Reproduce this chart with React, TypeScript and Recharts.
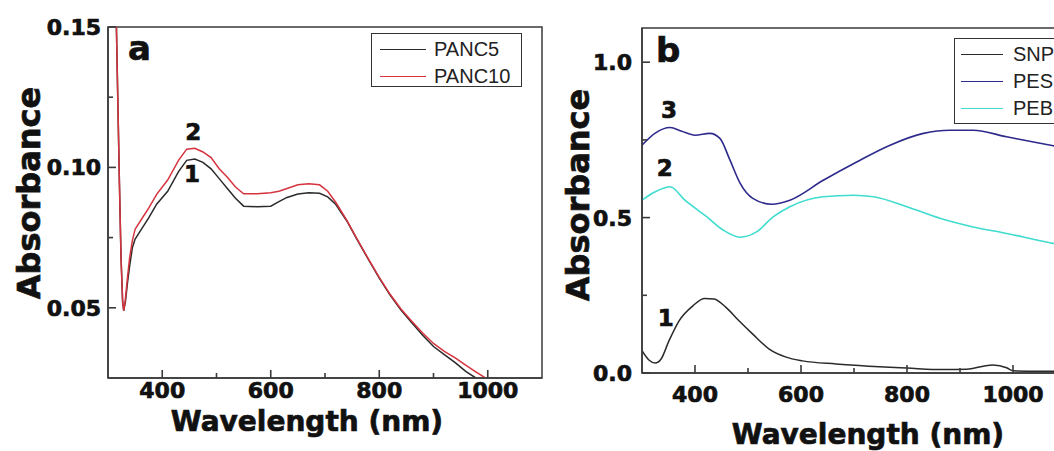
import React from 'react';
import { LineChart, Line, XAxis, YAxis, Legend, ReferenceArea, ReferenceDot } from 'recharts';

// ---------- Panel a data ----------
const wavelengthA = [305, 310, 315, 318, 321, 324, 327, 329, 332, 336, 340, 345, 350, 360, 375, 390, 410, 430, 445, 460, 475, 490, 505, 520, 535, 550, 575, 600, 615, 630, 650, 670, 690, 705, 720, 740, 760, 780, 800, 820, 840, 860, 880, 900, 920, 940, 960, 978, 1000];
const panc5 = [0.3, 0.22, 0.155, 0.125, 0.095, 0.068, 0.052, 0.049, 0.052, 0.059, 0.065, 0.0715, 0.0745, 0.0775, 0.082, 0.087, 0.0915, 0.0985, 0.1025, 0.103, 0.1018, 0.0995, 0.096, 0.0925, 0.089, 0.0862, 0.086, 0.0862, 0.0878, 0.0893, 0.0905, 0.091, 0.0908, 0.0895, 0.0868, 0.081, 0.074, 0.0672, 0.0606, 0.0545, 0.0492, 0.0447, 0.0402, 0.0362, 0.0333, 0.0305, 0.0273, 0.025, null];
const panc10 = [0.3, 0.22, 0.155, 0.125, 0.095, 0.068, 0.052, 0.049, 0.053, 0.061, 0.068, 0.074, 0.078, 0.081, 0.0855, 0.0905, 0.0955, 0.1025, 0.1065, 0.1068, 0.1055, 0.1035, 0.0995, 0.0965, 0.093, 0.0906, 0.0906, 0.091, 0.0915, 0.0925, 0.0938, 0.0942, 0.0938, 0.0915, 0.0875, 0.0812, 0.0742, 0.0674, 0.0608, 0.0548, 0.0496, 0.0452, 0.041, 0.0373, 0.0345, 0.0322, 0.0295, 0.0272, 0.0245];

const xMajorTicks = [400, 600, 800, 1000];
const xMinorTicks = [500, 700, 900];
const yMajorTicksA = [0.05, 0.1, 0.15];
const yMinorTicksA = [0.075, 0.125];
const yMajorTicksB = [0, 0.5, 1.0];
const yMinorTicksB = [0.25, 0.75];

// ---------- Panel b data ----------
const snpWl = [300, 313, 325, 336, 351, 370, 396, 418, 436, 458, 483, 509, 540, 572, 603, 666, 728, 800, 868, 913, 944, 962, 988, 1000, 1050, 1100];
const snpAbs = [0.072, 0.042, 0.032, 0.045, 0.104, 0.168, 0.216, 0.24, 0.238, 0.212, 0.168, 0.125, 0.077, 0.051, 0.039, 0.029, 0.022, 0.016, 0.011, 0.012, 0.022, 0.026, 0.017, 0.007, 0.006, 0.006];
const pesWl = [300, 325, 353, 375, 400, 428, 447, 466, 485, 509, 545, 579, 642, 705, 768, 831, 881, 925, 988, 1051, 1076, 1100];
const pesAbs = [0.733, 0.772, 0.79, 0.778, 0.765, 0.771, 0.755, 0.685, 0.611, 0.562, 0.543, 0.556, 0.62, 0.679, 0.733, 0.771, 0.781, 0.781, 0.76, 0.739, 0.731, 0.725];
const pebWl = [300, 325, 353, 381, 422, 453, 485, 516, 548, 579, 642, 699, 737, 800, 862, 925, 988, 1045, 1076, 1100];
const pebAbs = [0.556, 0.583, 0.599, 0.556, 0.503, 0.46, 0.437, 0.454, 0.503, 0.535, 0.567, 0.572, 0.567, 0.535, 0.498, 0.47, 0.449, 0.428, 0.417, 0.41];

const seriesOrderA = ['PANC5', 'PANC10'];
const seriesOrderB = ['SNP', 'PES', 'PEB'];

const curveLabelsA = [
  { text: '2', wl: 457, abs: 0.1125 },
  { text: '1', wl: 455, abs: 0.0975 },
];
const curveLabelsB = [
  { text: '3', wl: 351, abs: 0.846 },
  { text: '2', wl: 343, abs: 0.661 },
  { text: '1', wl: 345, abs: 0.178 },
];

const dataA = wavelengthA.map((wl, i) => ({ wl, panc5: panc5[i], panc10: panc10[i] }));
const dataSNP = snpWl.map((wl, i) => ({ wl, v: snpAbs[i] }));
const dataPES = pesWl.map((wl, i) => ({ wl, v: pesAbs[i] }));
const dataPEB = pebWl.map((wl, i) => ({ wl, v: pebAbs[i] }));

const BOLD = "'DejaVu Sans', 'Liberation Sans', sans-serif";
const AXIS = '#3a3a3a';

const boldText: React.CSSProperties = { fontFamily: BOLD, fontWeight: 700, fill: '#111' };
const heavyText: React.CSSProperties = { ...boldText, stroke: '#111', strokeWidth: 0.7 };

function makeXTick(labelDy: number) {
  return (props: any) => {
    const { x, y, payload } = props;
    const v = payload.value;
    const major = xMajorTicks.includes(v);
    return (
      <g>
        <line x1={x} x2={x} y1={y} y2={y - (major ? 8 : 5)} stroke={AXIS} strokeWidth={1.6} />
        {major && (
          <text x={x} y={y + labelDy} textAnchor="middle" style={{ ...heavyText, fontSize: 22 }}>
            {v}
          </text>
        )}
      </g>
    );
  };
}

function makeYTick(majors: number[], digits: number, gap: number) {
  return (props: any) => {
    const { x, y, payload } = props;
    const v = payload.value;
    const major = majors.some((m) => Math.abs(m - v) < 1e-9);
    return (
      <g>
        <line x1={x} x2={x + (major ? 8 : 5)} y1={y} y2={y} stroke={AXIS} strokeWidth={1.6} />
        {major && (
          <text x={x - gap} y={y + 8} textAnchor="end" style={{ ...heavyText, fontSize: 22 }}>
            {v.toFixed(digits)}
          </text>
        )}
      </g>
    );
  };
}

type Box = { w: number; h: number; rowTop: number; rowGap: number; lineX: number; lineW: number; gap: number; fs: number };

function LegendBox({ payload, box, order }: { payload?: any[]; box: Box; order: string[] }) {
  const items = [...(payload || [])].sort((a: any, b: any) => order.indexOf(a.value) - order.indexOf(b.value));
  return (
    <div
      style={{
        border: '1.5px solid #333',
        background: '#fff',
        width: box.w,
        height: box.h,
        boxSizing: 'border-box',
        position: 'relative',
      }}
    >
      {items.map((p: any, i: number) => (
        <div
          key={i}
          style={{
            position: 'absolute',
            left: 0,
            top: box.rowTop + i * box.rowGap - 12,
            height: 24,
            display: 'flex',
            alignItems: 'center',
            whiteSpace: 'nowrap',
          }}
        >
          <span style={{ marginLeft: box.lineX, width: box.lineW, height: 0, borderTop: `1.5px solid ${p.color}` }} />
          <span
            style={{
              marginLeft: box.gap,
              fontFamily: "'Liberation Sans', Arial, sans-serif",
              fontSize: box.fs,
              color: '#222',
              lineHeight: '24px',
            }}
          >
            {p.value}
          </span>
        </div>
      ))}
    </div>
  );
}

const CurveLabel = (text: string) => (props: any) => {
  const vb = props.viewBox || {};
  const cx = (vb.x || 0) + (vb.width || 0) / 2;
  const cy = (vb.y || 0) + (vb.height || 0) / 2;
  return (
    <text x={cx} y={cy + 8} textAnchor="middle" style={{ ...heavyText, fontSize: 23 }}>
      {text}
    </text>
  );
};

const XTitle = (dx: number, dy: number) => (props: any) => {
  const vb = props.viewBox || {};
  return (
    <text x={vb.x + vb.width / 2 + dx} y={vb.y + dy} textAnchor="middle" style={{ ...heavyText, fontSize: 28 }}>
      Wavelength (nm)
    </text>
  );
};

const YTitle = (cxAbs: number, cy: number) => () => {
  return (
    <text
      x={cxAbs}
      y={cy}
      textAnchor="middle"
      transform={`rotate(-90 ${cxAbs} ${cy})`}
      style={{ ...heavyText, fontSize: 32 }}
    >
      Absorbance
    </text>
  );
};

const PanelTag = (text: string, x: number, y: number) => (
  <text x={x} y={y} style={{ ...heavyText, fontSize: 34 }}>
    {text}
  </text>
);

function PanelA() {
  return (
    <LineChart width={560} height={451} data={dataA} margin={{ top: 27, right: 18, bottom: 43, left: 48 }}>
      <XAxis
        dataKey="wl"
        type="number"
        domain={[300, 1100]}
        allowDataOverflow
        ticks={[...xMajorTicks, ...xMinorTicks].sort((a, b) => a - b)}
        interval={0}
        tickSize={0}
        tickMargin={0}
        tick={makeXTick(20)}
        axisLine={{ stroke: AXIS, strokeWidth: 1.5 }}
        tickLine={false}
        height={30}
        label={{ content: XTitle(-18, 53) }}
      />
      <YAxis
        type="number"
        domain={[0.025, 0.15]}
        allowDataOverflow
        ticks={[...yMajorTicksA, ...yMinorTicksA].sort((a, b) => a - b)}
        interval={0}
        tickSize={0}
        tickMargin={0}
        tick={makeYTick(yMajorTicksA, 2, 7)}
        axisLine={{ stroke: AXIS, strokeWidth: 1.5 }}
        tickLine={false}
        width={60}
        label={{ content: YTitle(40, 193) }}
      />
      <ReferenceArea x1={300} x2={1100} y1={0.025} y2={0.15} fill="none" stroke={AXIS} strokeWidth={1.5} />
      <Line dataKey="panc5" name="PANC5" stroke="#2a2a2a" strokeWidth={1.5} dot={false} type="linear" isAnimationActive={false} />
      <Line dataKey="panc10" name="PANC10" stroke="#d6333f" strokeWidth={1.5} dot={false} type="linear" isAnimationActive={false} />
      {curveLabelsA.map((c, i) => (
        <ReferenceDot key={i} x={c.wl} y={c.abs} r={0} fill="none" stroke="none" label={{ content: CurveLabel(c.text) }} />
      ))}
      <Legend
        layout="vertical"
        align="center"
        verticalAlign="middle"
        wrapperStyle={{ left: 371, top: 33, width: 151, height: 54 }}
        content={(props: any) => (
          <LegendBox
            payload={props.payload}
            order={seriesOrderA}
            box={{ w: 151, h: 54, rowTop: 15, rowGap: 27, lineX: 8, lineW: 46, gap: 8, fs: 20 }}
          />
        )}
      />
    </LineChart>
  );
}

function PanelB() {
  return (
    <LineChart width={550} height={451} margin={{ top: 28, right: 24, bottom: 48, left: 42 }}>
      <XAxis
        dataKey="wl"
        type="number"
        domain={[300, 1100]}
        allowDataOverflow
        ticks={[...xMajorTicks, ...xMinorTicks].sort((a, b) => a - b)}
        interval={0}
        tickSize={0}
        tickMargin={0}
        tick={makeXTick(29)}
        axisLine={{ stroke: AXIS, strokeWidth: 1.5 }}
        tickLine={false}
        height={30}
        label={{ content: XTitle(14, 71) }}
      />
      <YAxis
        type="number"
        domain={[0, 1.11]}
        allowDataOverflow
        ticks={[...yMajorTicksB, ...yMinorTicksB].sort((a, b) => a - b)}
        interval={0}
        tickSize={0}
        tickMargin={0}
        tick={makeYTick(yMajorTicksB, 1, 10)}
        axisLine={{ stroke: AXIS, strokeWidth: 1.5 }}
        tickLine={false}
        width={60}
        label={{ content: YTitle(49, 195) }}
      />
      <ReferenceArea x1={300} x2={1100} y1={0} y2={1.11} fill="none" stroke={AXIS} strokeWidth={1.5} />
      <Line data={dataSNP} dataKey="v" name="SNP" stroke="#2a2a2a" strokeWidth={1.5} dot={false} type="monotone" isAnimationActive={false} />
      <Line data={dataPES} dataKey="v" name="PES" stroke="#2e2a8c" strokeWidth={1.6} dot={false} type="monotone" isAnimationActive={false} />
      <Line data={dataPEB} dataKey="v" name="PEB" stroke="#3fdccf" strokeWidth={1.6} dot={false} type="monotone" isAnimationActive={false} />
      {curveLabelsB.map((c, i) => (
        <ReferenceDot key={i} x={c.wl} y={c.abs} r={0} fill="none" stroke="none" label={{ content: CurveLabel(c.text) }} />
      ))}
      <Legend
        layout="vertical"
        align="center"
        verticalAlign="middle"
        wrapperStyle={{ left: 414, top: 38, width: 130, height: 86 }}
        content={(props: any) => (
          <LegendBox
            payload={props.payload}
            order={seriesOrderB}
            box={{ w: 130, h: 86, rowTop: 15, rowGap: 27, lineX: 6, lineW: 42, gap: 10, fs: 20 }}
          />
        )}
      />
    </LineChart>
  );
}

export default function App() {
  return (
    <div style={{ position: 'fixed', left: 0, top: 0, width: 1054, height: 451, overflow: 'hidden', background: '#fff' }}>
      <div style={{ position: 'absolute', left: 0, top: 0 }}>
        <PanelA />
      </div>
      <div style={{ position: 'absolute', left: 540, top: 0 }}>
        <PanelB />
      </div>
      <svg width={1054} height={451} style={{ position: 'absolute', left: 0, top: 0, pointerEvents: 'none' }}>
        {PanelTag('a', 128, 60)}
        {PanelTag('b', 656, 62)}
      </svg>
    </div>
  );
}
